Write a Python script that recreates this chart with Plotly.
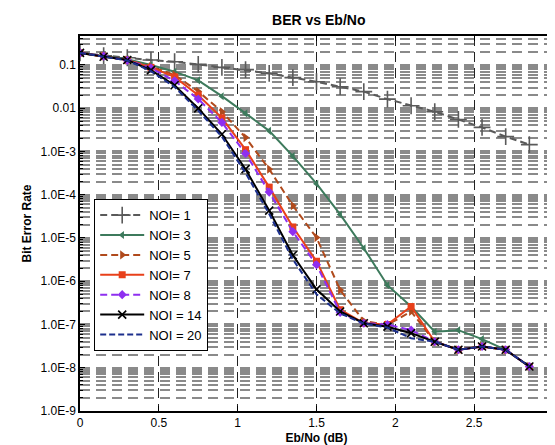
import plotly.graph_objects as go

ebno = [0, 0.15, 0.3, 0.45, 0.6, 0.75, 0.9, 1.05, 1.2, 1.35, 1.5, 1.65, 1.8, 1.95, 2.1, 2.25, 2.4, 2.55, 2.7, 2.85]

ber_noi1 = [0.19, 0.164, 0.147, 0.13, 0.119, 0.103, 0.088, 0.078, 0.064, 0.051, 0.041, 0.0315, 0.0242,
            0.0162, 0.0114, 0.0083, 0.0055, 0.0036, 0.0022, 0.00144]
ber_noi3 = [0.19, 0.16, 0.135, 0.1, 0.07, 0.044, 0.019, 0.0076, 0.003, 7.8e-4, 1.8e-4, 3.5e-5, 5.8e-6,
            8.1e-7, 2.6e-7, 6.8e-8, 7.4e-8, 4.6e-8, 2.6e-8, 1.07e-8]
ber_noi5 = [0.19, 0.16, 0.13, 0.092, 0.059, 0.0245, 0.0083, 0.0021, 3.9e-4, 5.6e-5, 1.02e-5, 6.3e-7, 1.2e-7,
            9.8e-8, 2.0e-7, 4.0e-8, 2.6e-8, 3.1e-8, 2.6e-8, 1.07e-8]
ber_noi7 = [0.19, 0.16, 0.13, 0.088, 0.053, 0.02, 0.006, 1.1e-3, 1.5e-4, 1.8e-5, 2.9e-6, 2.2e-7, 1.07e-7,
            1.0e-7, 2.6e-7, 4.0e-8, 2.6e-8, 3.1e-8, 2.6e-8, 1.07e-8]
ber_noi8 = [0.19, 0.16, 0.128, 0.085, 0.043, 0.0163, 0.0047, 9.0e-4, 1.15e-4, 1.4e-5, 2.4e-6, 1.9e-7, 1.07e-7,
            1.0e-7, 7.4e-8, 4.0e-8, 2.6e-8, 3.1e-8, 2.6e-8, 1.07e-8]
ber_noi14 = [0.19, 0.155, 0.13, 0.076, 0.034, 0.0099, 0.0025, 3.9e-4, 4.3e-5, 4.0e-6, 6.5e-7, 2.0e-7, 1.07e-7,
             8.9e-8, 6.3e-8, 4.0e-8, 2.6e-8, 3.1e-8, 2.6e-8, 1.07e-8]
ber_noi20 = [0.19, 0.155, 0.127, 0.072, 0.031, 0.0088, 0.0022, 3.2e-4, 3.6e-5, 3.2e-6, 5.0e-7, 1.8e-7, 1.05e-7,
             8.5e-8, 4.8e-8, 4.0e-8, 2.6e-8, 3.1e-8, 2.6e-8, 1.07e-8]

series_names = ["NOI= 1", "NOI= 3", "NOI= 5", "NOI= 7", "NOI= 8", "NOI = 14", "NOI = 20"]
series_values = [ber_noi1, ber_noi3, ber_noi5, ber_noi7, ber_noi8, ber_noi14, ber_noi20]

ytick_vals = [1e-9, 1e-8, 1e-7, 1e-6, 1e-5, 1e-4, 1e-3, 1e-2, 1e-1]
ytick_text = ["1.0E-9", "1.0E-8", "1.0E-7", "1.0E-6", "1.0E-5", "1.0E-4", "1.0E-3", "0.01", "0.1"]
xtick_vals = [0, 0.5, 1, 1.5, 2, 2.5, 3]
xtick_text = ["0", "0.5", "1", "1.5", "2", "2.5", "3"]

styles = [
    dict(color="#5a5a5a", dash="dash", symbol="cross-thin", size=12, mlw=1.6),
    dict(color="#3d7a5c", dash="solid", symbol="triangle-left", size=7, mlw=0),
    dict(color="#b04a1c", dash="dash", symbol="triangle-right", size=8, mlw=0),
    dict(color="#e8401a", dash="solid", symbol="square", size=7, mlw=0),
    dict(color="#8e2ff0", dash="dash", symbol="diamond", size=7, mlw=0),
    dict(color="#000000", dash="solid", symbol="x-thin", size=8, mlw=1.6),
    dict(color="#1c2f8c", dash="dash", symbol=None, size=0, mlw=0),
]

fig = go.Figure()
for name, vals, st in zip(series_names, series_values, styles):
    if st["symbol"] is None:
        fig.add_trace(go.Scatter(x=ebno, y=vals, name=name, mode="lines",
                                 line=dict(color=st["color"], dash="6px,3px", width=2)))
    else:
        fig.add_trace(go.Scatter(x=ebno, y=vals, name=name, mode="lines+markers",
                                 line=dict(color=st["color"], dash="7px,4px" if st["dash"] == "dash" else "solid", width=2),
                                 marker=dict(symbol=st["symbol"], size=st["size"], color=st["color"],
                                             line=dict(color=st["color"], width=st["mlw"]))))

font_family = "Liberation Sans, Arial, sans-serif"
fig.update_layout(
    width=555, height=445,
    margin=dict(l=72, r=6, t=28, b=42),
    paper_bgcolor="white", plot_bgcolor="white",
    font=dict(family=font_family, size=12, color="black"),
    title=dict(text="<b>BER vs Eb/No</b>", x=0.56, xanchor="center", y=0.972, yanchor="middle",
               font=dict(size=14, family=font_family, color="black")),
    showlegend=True,
    legend=dict(x=0.03, y=0.565, xanchor="left", yanchor="top", bgcolor="white",
                bordercolor="black", borderwidth=1, font=dict(size=13, family=font_family),
                tracegroupgap=0, itemwidth=44),
)
fig.update_xaxes(
    range=[0, 3], tickvals=xtick_vals, ticktext=xtick_text, ticklabeloverflow="allow",
    showline=True, linecolor="black", linewidth=1.5, mirror="allticks",
    ticks="inside", ticklen=5, tickcolor="black",
    showgrid=True, gridcolor="#222222", griddash="10px,6px", gridwidth=1,
    zeroline=False,
    title=dict(text="<b>Eb/No (dB)</b>", font=dict(size=12), standoff=4),
)
fig.update_yaxes(
    type="log", range=[-9, -0.33], tickvals=ytick_vals, ticktext=ytick_text,
    showline=True, linecolor="black", linewidth=1.5, mirror="allticks",
    ticks="inside", ticklen=5, tickcolor="black",
    showgrid=True, gridcolor="#8a8a8a", griddash="10px,6px", gridwidth=1.5,
    zeroline=False,
    minor=dict(dtick="D1", showgrid=True, gridcolor="#8a8a8a", griddash="10px,6px", gridwidth=1.5,
               ticks="inside", ticklen=3, tickcolor="black"),
    title=dict(text="<b>Bit Error Rate</b>", font=dict(size=12), standoff=6),
)

fig.write_html("out.html")
